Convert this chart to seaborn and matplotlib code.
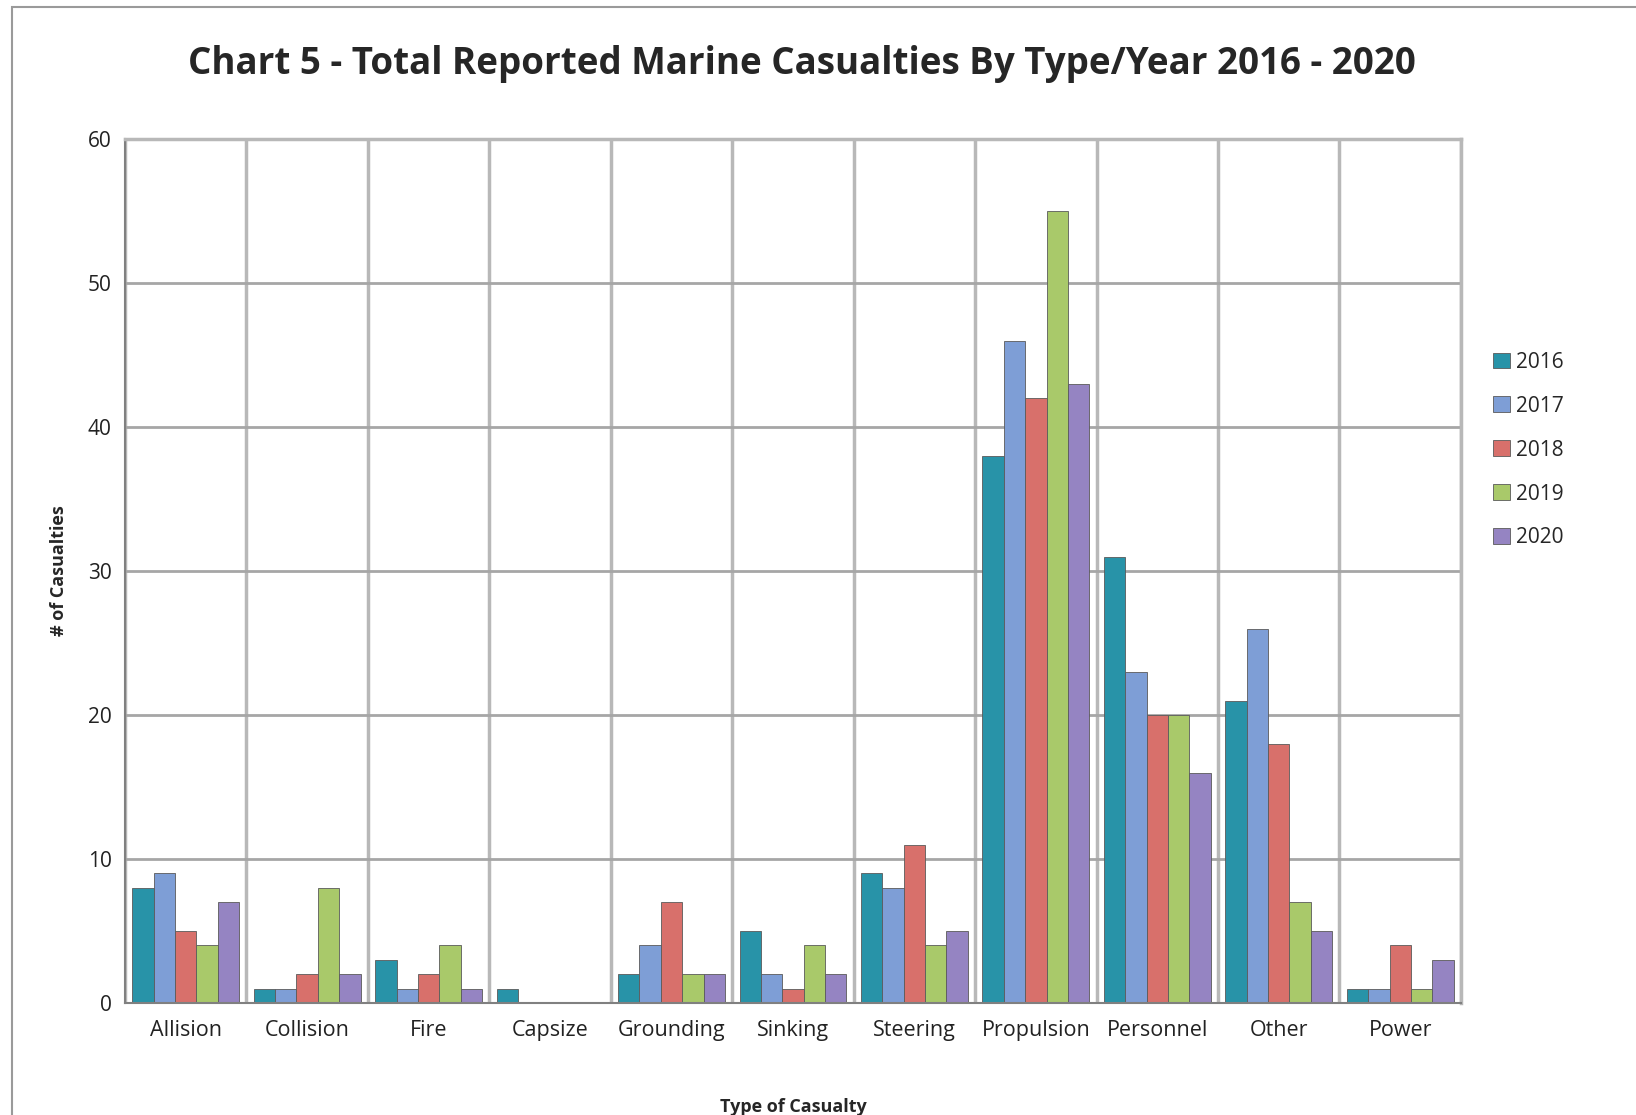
import matplotlib
matplotlib.use("Agg")
import matplotlib.pyplot as plt
from matplotlib.patches import Rectangle
import seaborn as sns
import pandas as pd
import numpy as np

# casualty types and yearly counts
types = ["Allision", "Collision", "Fire", "Capsize", "Grounding", "Sinking",
         "Steering", "Propulsion", "Personnel", "Other", "Power"]
years = ["2016", "2017", "2018", "2019", "2020"]
y2016 = [8, 1, 3, 1, 2, 5, 9, 38, 31, 21, 1]
y2017 = [9, 1, 1, 0, 4, 2, 8, 46, 23, 26, 1]
y2018 = [5, 2, 2, 0, 7, 1, 11, 42, 20, 18, 4]
y2019 = [4, 8, 4, 0, 2, 4, 4, 55, 20, 7, 1]
y2020 = [7, 2, 1, 0, 2, 2, 5, 43, 16, 5, 3]
colors = ["#2893A8", "#7E9ED6", "#D8706B", "#A9C96A", "#9584C2"]

df = pd.DataFrame({"Type": types, "2016": y2016, "2017": y2017,
                   "2018": y2018, "2019": y2019, "2020": y2020})
df = df.melt(id_vars="Type", var_name="Year", value_name="Count")

sns.set_style("white")
plt.rcParams["font.family"] = ["Open Sans", "DejaVu Sans"]

fig = plt.figure(figsize=(16.36, 11.15), dpi=100)
ax = fig.add_axes([0.0764, 0.1004, 0.8166, 0.7749])

sns.barplot(data=df, x="Type", y="Count", hue="Year", order=types,
            hue_order=years, palette=colors, width=0.88, saturation=1,
            edgecolor="#5a5a5a", linewidth=0.6, ax=ax, legend=True)

ax.set_ylim(0, 60)
ax.set_xlim(-0.5, len(types) - 0.5)
ax.set_yticks(range(0, 61, 10))
ax.set_xticks(range(len(types)))
ax.set_xticks(np.arange(-0.5, len(types), 1.0), minor=True)
ax.grid(axis="y", color="#A6A6A6", linewidth=2)
ax.grid(axis="x", which="minor", color="#B8B8B8", linewidth=2.5)
ax.set_axisbelow(True)
ax.tick_params(axis="x", which="major", length=0, labelsize=15.5, pad=12, colors="#222222")
ax.tick_params(axis="x", which="minor", length=6, color="#808080", direction="out")
ax.tick_params(axis="y", length=6, color="#808080", labelsize=15, colors="#222222", direction="out")
for s in ["top", "right"]:
    ax.spines[s].set_color("#B8B8B8")
    ax.spines[s].set_linewidth(2.5)
for s in ["left", "bottom"]:
    ax.spines[s].set_color("#808080")
    ax.spines[s].set_linewidth(1.5)

ax.set_xlabel("Type of Casualty", fontsize=13, fontweight="bold", labelpad=41)
ax.set_ylabel("# of Casualties", fontsize=13, fontweight="bold", labelpad=14)

leg = ax.legend(loc="center left", bbox_to_anchor=(1.01, 0.64), frameon=False,
                fontsize=15, handlelength=0.8, handleheight=0.8,
                handletextpad=0.3, labelspacing=1.1)

fig.suptitle("Chart 5 - Total Reported Marine Casualties By Type/Year 2016 - 2020",
             fontsize=26.5, fontweight="bold", x=0.49, y=0.96)

fig.patches.append(Rectangle((12 / 1636, -0.01), 1.1, 1 - 7 / 1115 + 0.01,
                             transform=fig.transFigure, fill=False,
                             edgecolor="#9a9a9a", linewidth=1.5))

fig.savefig("out.png", dpi=100)
